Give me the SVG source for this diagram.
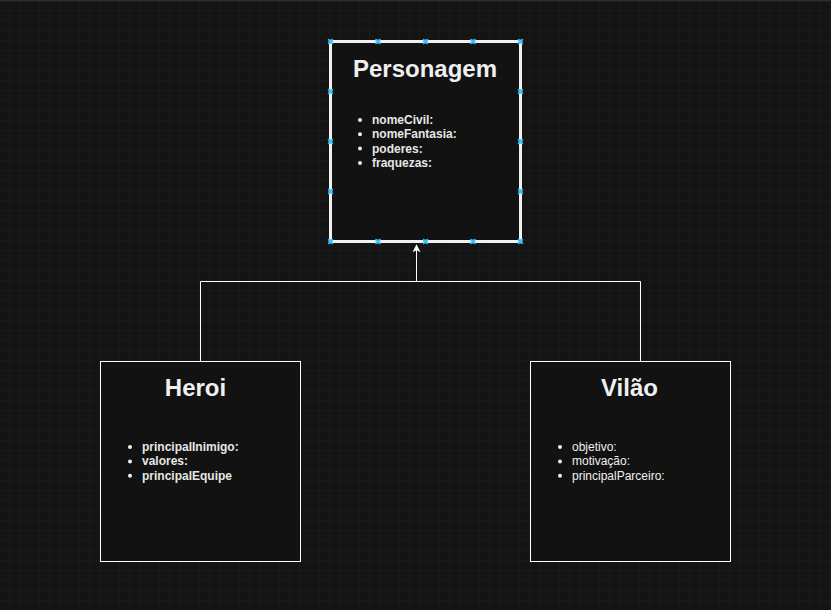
<svg xmlns="http://www.w3.org/2000/svg" width="831" height="610" viewBox="0 0 831 610">
<defs>
<style>
.title{font-family:"Liberation Sans",Arial,sans-serif;font-weight:bold;font-size:24px;fill:#f0f0f0;text-anchor:middle}
.item{font-family:"Liberation Sans",Arial,sans-serif;font-size:12px;fill:#f0f0f0}
.b{font-weight:bold;fill:#e6e6e6}
.box{fill:#121212;stroke:#ffffff;stroke-width:1}
.sel{fill:#121212;stroke:#f0f0f0;stroke-width:3}
.dot{fill:#f0f0f0}
.conn{fill:none;stroke:#ffffff;stroke-width:1}
.h{stroke:#29b6f2;stroke-width:1.3;fill:none}
</style>
<pattern id="minor" width="10" height="10" patternUnits="userSpaceOnUse" x="0" y="1">
<path d="M10 0V10M0 10H10" fill="none" stroke="#1e1e1e" stroke-width="1"/>
</pattern>
<pattern id="major" width="40" height="40" patternUnits="userSpaceOnUse" x="0" y="1">
<path d="M40.5 0V40M0 40.5H40" fill="none" stroke="#303030" stroke-width="1"/>
</pattern>
<marker id="arr" viewBox="0 0 10 10" refX="9" refY="5" markerWidth="8" markerHeight="8" markerUnits="userSpaceOnUse" orient="auto">
<path d="M0 0L10 5L0 10L2.5 5Z" fill="#ffffff"/>
</marker>
<g id="hd"><path class="h" d="M-2.5 -2.5L2.5 2.5M-2.5 2.5L2.5 -2.5"/><rect x="-2" y="-2" width="4" height="4" fill="none" stroke="#29b6f2" stroke-width="0.6"/></g>
</defs>
<rect width="831" height="610" fill="#141414"/>
<rect width="831" height="610" fill="url(#minor)"/>
<rect width="831" height="610" fill="url(#major)"/>
<rect x="0" y="0" width="831" height="1.5" fill="#2c2c2c"/>

<g id="connectors">
<path class="conn" d="M200.5 361V281.5H640.5V361"/>
<path class="conn" d="M416.5 281.5V245" marker-end="url(#arr)"/>
</g>

<g id="personagem">
<rect class="sel" x="330.5" y="41.5" width="190" height="200"/>
<text class="title" x="425" y="77">Personagem</text>
<circle class="dot" cx="360" cy="120" r="2"/>
<circle class="dot" cx="360" cy="134.3" r="2"/>
<circle class="dot" cx="360" cy="148.6" r="2"/>
<circle class="dot" cx="360" cy="162.9" r="2"/>
<text class="item b" x="372" y="124">nomeCivil:</text>
<text class="item b" x="372" y="138.3">nomeFantasia:</text>
<text class="item b" x="372" y="152.6">poderes:</text>
<text class="item b" x="372" y="166.9">fraquezas:</text>
<g id="handles">
<use href="#hd" x="330.5" y="41.5"/><use href="#hd" x="378" y="41.5"/><use href="#hd" x="425.5" y="41.5"/><use href="#hd" x="473" y="41.5"/><use href="#hd" x="520.5" y="41.5"/>
<use href="#hd" x="330.5" y="241.5"/><use href="#hd" x="378" y="241.5"/><use href="#hd" x="425.5" y="241.5"/><use href="#hd" x="473" y="241.5"/><use href="#hd" x="520.5" y="241.5"/>
<use href="#hd" x="330.5" y="91.5"/><use href="#hd" x="330.5" y="141.5"/><use href="#hd" x="330.5" y="191.5"/>
<use href="#hd" x="520.5" y="91.5"/><use href="#hd" x="520.5" y="141.5"/><use href="#hd" x="520.5" y="191.5"/>
</g>
</g>

<g id="heroi">
<rect class="box" x="100.5" y="361.5" width="200" height="200"/>
<text class="title" x="195.5" y="396">Heroi</text>
<circle class="dot" cx="130" cy="447" r="2"/>
<circle class="dot" cx="130" cy="461.4" r="2"/>
<circle class="dot" cx="130" cy="475.8" r="2"/>
<text class="item b" x="142" y="451">principalInimigo:</text>
<text class="item b" x="142" y="465.4">valores:</text>
<text class="item b" x="142" y="479.8">principalEquipe</text>
</g>

<g id="vilao">
<rect class="box" x="530.5" y="361.5" width="200" height="200"/>
<text class="title" x="629.5" y="396">Vilão</text>
<circle class="dot" cx="560" cy="447" r="2"/>
<circle class="dot" cx="560" cy="461.4" r="2"/>
<circle class="dot" cx="560" cy="475.8" r="2"/>
<text class="item" x="572" y="451">objetivo:</text>
<text class="item" x="572" y="465.4">motivação:</text>
<text class="item" x="572" y="479.8">principalParceiro:</text>
</g>
</svg>
